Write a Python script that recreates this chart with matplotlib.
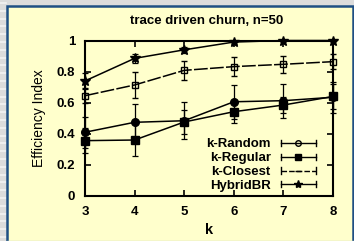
import matplotlib
matplotlib.use("Agg")
import matplotlib.pyplot as plt
from matplotlib.lines import Line2D
from matplotlib.patches import Rectangle
from matplotlib.legend_handler import HandlerLine2D

# datos
k_vals = [3, 4, 5, 6, 7, 8]
random_mean = [0.41, 0.474, 0.484, 0.606, 0.613, 0.635]
random_err = [0.10, 0.12, 0.12, 0.11, 0.11, 0.10]
regular_mean = [0.356, 0.36, 0.476, 0.542, 0.585, 0.64]
regular_err = [0.08, 0.10, 0.08, 0.075, 0.05, 0.08]
closest_mean = [0.645, 0.714, 0.808, 0.832, 0.847, 0.864]
closest_err = [0.05, 0.085, 0.06, 0.06, 0.055, 0.05]
hybrid_mean = [0.74, 0.885, 0.94, 0.99, 1.0, 1.0]
hybrid_err = [0.05, 0.03, 0.02, 0.01, 0.0, 0.0]

y_ticks = [0, 0.2, 0.4, 0.6, 0.8, 1]
y_tick_labels = ["0", "0.2", "0.4", "0.6", "0.8", "1"]

AMARILLO = "#FFFFCC"
AZUL = "#1E4F84"

plt.rcParams['font.family'] = ['Liberation Sans', 'DejaVu Sans']


class HandlerConTopes(HandlerLine2D):
    # linea de leyenda estilo gnuplot, con topes en los extremos
    def create_artists(self, legend, orig_handle, xdescent, ydescent,
                       width, height, fontsize, trans):
        artistas = super().create_artists(legend, orig_handle, xdescent, ydescent,
                                          width, height, fontsize, trans)
        y = height / 2 - ydescent
        for x in (-xdescent, width - xdescent):
            tope = Line2D([x, x], [y - 2.2, y + 2.2], color='black', lw=1.0,
                          transform=trans)
            artistas.append(tope)
        return artistas


fig = plt.figure(figsize=(3.54, 2.41), dpi=100)
fig.patch.set_facecolor("#DCDCDC")

# fondo de la diapositiva (rayas grises a la izquierda)
for i in range(32):
    fig.add_artist(Line2D([0, 6 / 354], [1 - (3 + 7.8 * i) / 241] * 2,
                          color="#F2F2F2", lw=1.2, transform=fig.transFigure,
                          zorder=-20))

# panel amarillo con borde azul
panel = Rectangle((7 / 354, -0.02), 346 / 354, 1 - 6 / 241 + 0.02,
                  transform=fig.transFigure, facecolor=AMARILLO,
                  edgecolor=AZUL, lw=1.8, zorder=-10)
fig.add_artist(panel)
fig.add_artist(Line2D([7 / 354, 1], [0.5 / 241] * 2, color="#C8D2C0", lw=1.0,
                      transform=fig.transFigure, zorder=-5))

ax = fig.add_axes([85 / 354, 1 - 196 / 241, 248 / 354, 155.5 / 241])
ax.set_facecolor(AMARILLO)

estilo_err = dict(color='black', lw=1.1, elinewidth=0.9, capsize=2.2,
                  capthick=0.9, clip_on=False)

ax.errorbar(k_vals, random_mean, yerr=random_err, marker='o', ms=5.5,
            mfc='black', mec='black', **estilo_err)
ax.errorbar(k_vals, regular_mean, yerr=regular_err, marker='s', ms=5.5,
            mfc='black', mec='black', **estilo_err)
ax.errorbar(k_vals, closest_mean, yerr=closest_err, marker='s', ms=5,
            mfc='none', mec='black', mew=1.0, dashes=(9, 1.5), **estilo_err)
ax.errorbar(k_vals, hybrid_mean, yerr=hybrid_err, marker='*', ms=7.5,
            mfc='black', mec='black', **estilo_err)

ax.set_xlim(3, 8)
ax.set_ylim(0, 1)
ax.set_xticks(k_vals)
ax.set_yticks(y_ticks)
ax.set_yticklabels(y_tick_labels)
ax.tick_params(direction='in', length=4, width=1.2, top=True, right=True,
               labelsize=9.5, pad=7, colors='black')
for lab in ax.get_xticklabels() + ax.get_yticklabels():
    lab.set_fontweight('bold')
ax.tick_params(axis='x', pad=7)
for lado in ax.spines.values():
    lado.set_linewidth(1.5)

ax.set_title("trace driven churn, n=50", fontsize=9.5, fontweight='bold', pad=12,
             x=0.492)
ax.set_xlabel("k", fontsize=10.5, fontweight='bold', labelpad=4)
ax.set_ylabel("Efficiency Index", fontsize=10, labelpad=8)

manijas = [
    Line2D([], [], color='black', lw=1.0, marker='o', ms=4, mfc='none', mec='black'),
    Line2D([], [], color='black', lw=1.0, marker='s', ms=5, mfc='black', mec='black'),
    Line2D([], [], color='black', lw=1.0, marker='_', ms=5, mew=1.0, dashes=(4, 1.5)),
    Line2D([], [], color='black', lw=1.0, marker='*', ms=6, mfc='black', mec='black'),
]
etiquetas = ["k-Random", "k-Regular", "k-Closest", "HybridBR"]
leyenda = ax.legend(manijas, etiquetas, loc='lower right',
                    bbox_to_anchor=(0.93, 0.026), frameon=False, markerfirst=False,
                    handlelength=2.65, handletextpad=0.75, labelspacing=0.12,
                    borderpad=0, borderaxespad=0, numpoints=1,
                    prop={'size': 9.5, 'weight': 'bold'},
                    handler_map={Line2D: HandlerConTopes()})

fig.savefig("out.png", dpi=100, facecolor=fig.get_facecolor())
